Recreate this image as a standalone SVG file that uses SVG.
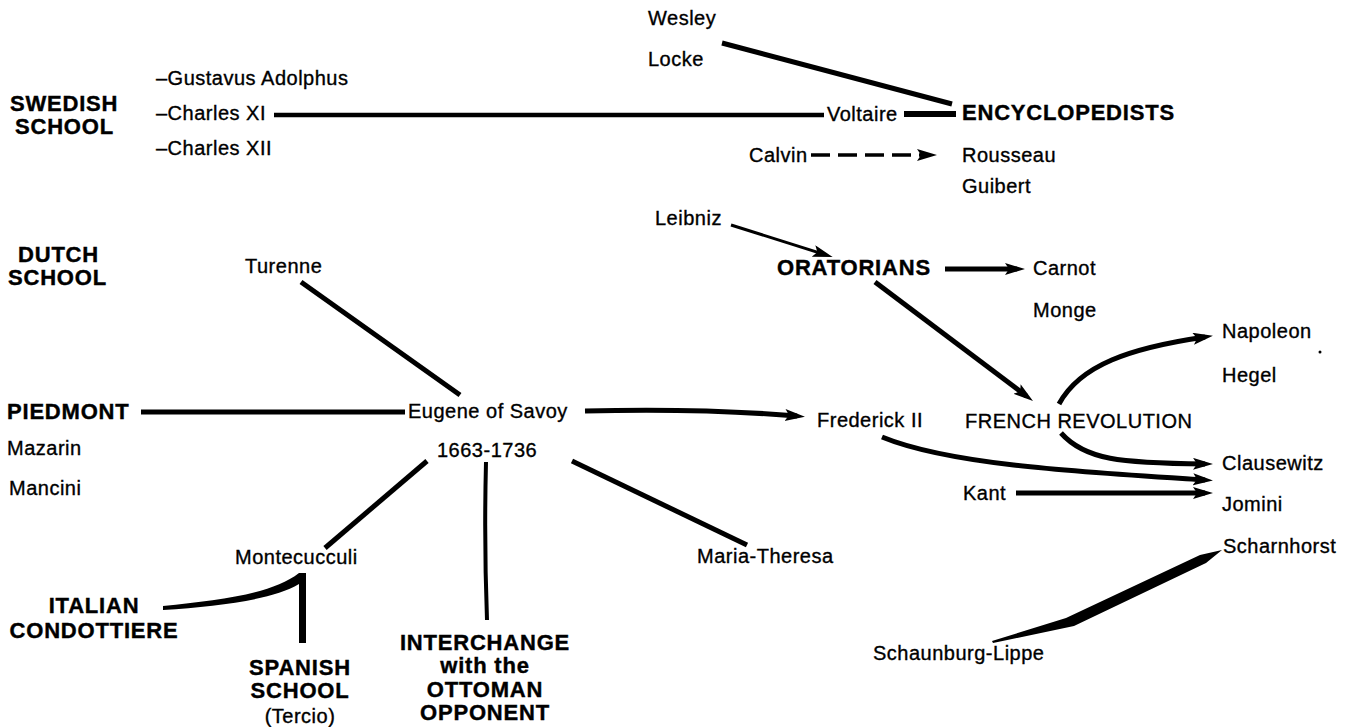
<svg xmlns="http://www.w3.org/2000/svg" width="1351" height="727" viewBox="0 0 1351 727">
<defs>
<style>
.t{font-family:"Liberation Sans",Arial,sans-serif;font-size:20px;letter-spacing:0.5px;fill:#000;stroke:#000;stroke-width:0.35px}
.b{font-family:"Liberation Sans",Arial,sans-serif;font-size:22px;font-weight:bold;letter-spacing:0.8px;fill:#000;stroke:#000;stroke-width:0.4px}
.c{text-anchor:middle}
.ln{fill:none;stroke:#000;stroke-linecap:butt}
.fill{fill:#000;stroke:none}
</style>
<marker id="ah" markerUnits="userSpaceOnUse" markerWidth="22" markerHeight="14" refX="12" refY="6" orient="auto">
<path d="M0,0 L20,6 L0,12 L4,6 Z" fill="#000"/>
</marker>
</defs>
<rect width="1351" height="727" fill="#fff"/>
<g id="connectors">
<path class="ln" d="M722,43 L952,104" stroke-width="5"/>
<path class="ln" d="M274,115 L824,115" stroke-width="4.5"/>
<path class="ln" d="M904,114 L956,114" stroke-width="6"/>
<path class="ln" d="M811,155 L929,155" stroke-width="3.5" stroke-dasharray="19,8" marker-end="url(#ah)"/>
<path class="ln" d="M731,225 L825,254.6" stroke-width="3" marker-end="url(#ah)"/>
<path class="ln" d="M945,269 L1017,269" stroke-width="5" marker-end="url(#ah)"/>
<path class="ln" d="M875,282 L1026.6,396.2" stroke-width="5" marker-end="url(#ah)"/>
<path class="ln" d="M301,282 L460,395" stroke-width="5"/>
<path class="ln" d="M141,412 L405,412" stroke-width="5"/>
<path class="ln" d="M585,411 Q700,408 797,416" stroke-width="5" marker-end="url(#ah)"/>
<path class="ln" d="M1059,404 C1080,365 1130,348 1205,337" stroke-width="5" marker-end="url(#ah)"/>
<path class="ln" d="M1061,433 C1085,460 1120,463 1205,464" stroke-width="5" marker-end="url(#ah)"/>
<path class="ln" d="M882,437 C950,465 1080,472 1205,480" stroke-width="5" marker-end="url(#ah)"/>
<path class="ln" d="M1016,493 L1205,493" stroke-width="5" marker-end="url(#ah)"/>
<path class="ln" d="M427,461 L325,548" stroke-width="5"/>
<path class="ln" d="M486,462 Q484,540 487,620" stroke-width="4"/>
<path class="ln" d="M572,461 L747,545" stroke-width="5"/>
<path class="fill" d="M163,606 C220,600 272,594 299,573 L306,573 L306,643 L299,643 L299,584 C272,600 220,606 163,610 Z"/>
<path class="fill" d="M992,641 L1066,618 L1200,555 L1222,550 L1206,563 L1074,626 L993,643 Z"/>
<circle cx="1320" cy="352" r="1.5" fill="#000"/>
</g>
<g id="n-wesley"><text class="t" x="648" y="25">Wesley</text></g>
<g id="n-locke"><text class="t" x="648" y="66">Locke</text></g>
<g id="n-swedish"><text class="b" x="10" y="111">SWEDISH</text><text class="b" x="15" y="134">SCHOOL</text></g>
<g id="n-gustavus"><text class="t" x="156" y="85">–Gustavus Adolphus</text></g>
<g id="n-charles11"><text class="t" x="156" y="120">–Charles XI</text></g>
<g id="n-charles12"><text class="t" x="156" y="155">–Charles XII</text></g>
<g id="n-voltaire"><text class="t" x="827" y="121">Voltaire</text></g>
<g id="n-encyclopedists"><text class="b" x="962" y="120">ENCYCLOPEDISTS</text></g>
<g id="n-calvin"><text class="t" x="749" y="162">Calvin</text></g>
<g id="n-rousseau"><text class="t" x="962" y="162">Rousseau</text></g>
<g id="n-guibert"><text class="t" x="962" y="193">Guibert</text></g>
<g id="n-leibniz"><text class="t" x="655" y="225">Leibniz</text></g>
<g id="n-dutch"><text class="b" x="18" y="262">DUTCH</text><text class="b" x="8" y="285">SCHOOL</text></g>
<g id="n-turenne"><text class="t" x="245" y="273">Turenne</text></g>
<g id="n-oratorians"><text class="b" x="777" y="275">ORATORIANS</text></g>
<g id="n-carnot"><text class="t" x="1033" y="275">Carnot</text></g>
<g id="n-monge"><text class="t" x="1033" y="317">Monge</text></g>
<g id="n-napoleon"><text class="t" x="1222" y="338">Napoleon</text></g>
<g id="n-hegel"><text class="t" x="1222" y="382">Hegel</text></g>
<g id="n-piedmont"><text class="b" x="7" y="419">PIEDMONT</text></g>
<g id="n-eugene"><text class="t" x="408" y="418">Eugene of Savoy</text><text class="t" x="437" y="457">1663-1736</text></g>
<g id="n-frederick"><text class="t" x="817" y="427">Frederick II</text></g>
<g id="n-revolution"><text class="t" x="965" y="428">FRENCH REVOLUTION</text></g>
<g id="n-mazarin"><text class="t" x="7" y="455">Mazarin</text></g>
<g id="n-mancini"><text class="t" x="9" y="495">Mancini</text></g>
<g id="n-clausewitz"><text class="t" x="1222" y="470">Clausewitz</text></g>
<g id="n-kant"><text class="t" x="963" y="500">Kant</text></g>
<g id="n-jomini"><text class="t" x="1222" y="511">Jomini</text></g>
<g id="n-scharnhorst"><text class="t" x="1223" y="553">Scharnhorst</text></g>
<g id="n-montecucculi"><text class="t" x="235" y="564">Montecucculi</text></g>
<g id="n-maria"><text class="t" x="697" y="563">Maria-Theresa</text></g>
<g id="n-italian"><text class="b c" x="94" y="613">ITALIAN</text><text class="b c" x="94" y="638">CONDOTTIERE</text></g>
<g id="n-spanish"><text class="b c" x="300" y="675">SPANISH</text><text class="b c" x="300" y="698">SCHOOL</text><text class="t c" x="300" y="723">(Tercio)</text></g>
<g id="n-interchange"><text class="b c" x="485" y="650">INTERCHANGE</text><text class="b c" x="485" y="673">with the</text><text class="b c" x="485" y="697">OTTOMAN</text><text class="b c" x="485" y="720">OPPONENT</text></g>
<g id="n-schaunburg"><text class="t" x="873" y="660">Schaunburg-Lippe</text></g>
</svg>
